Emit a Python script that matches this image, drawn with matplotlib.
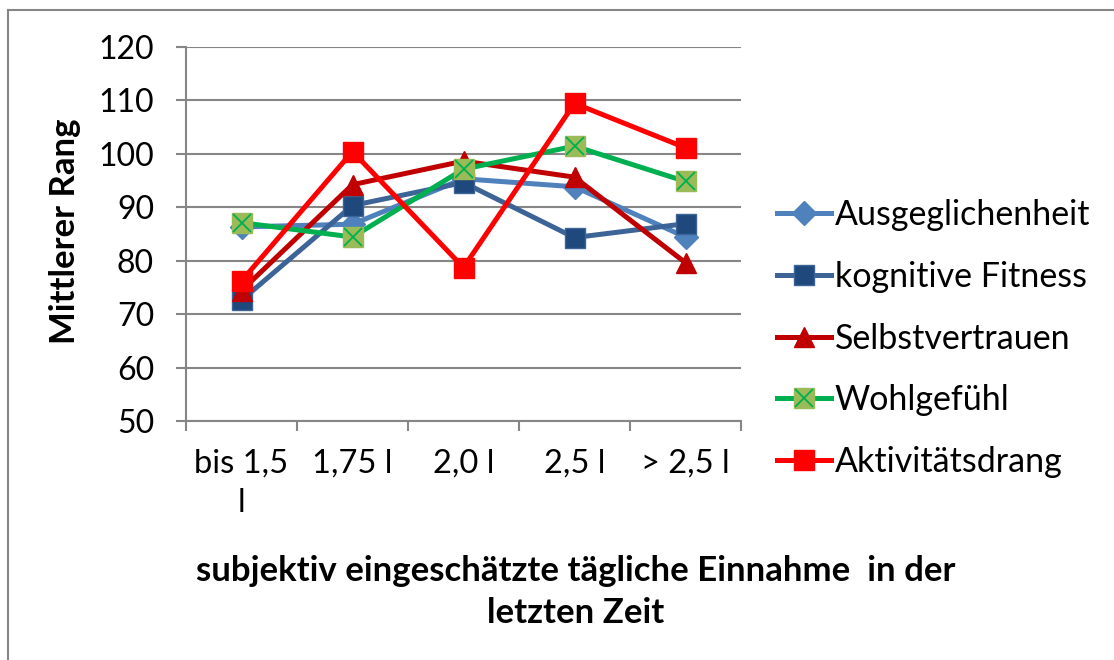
import matplotlib
matplotlib.use("Agg")
import matplotlib.pyplot as plt
from matplotlib.lines import Line2D
from matplotlib.legend_handler import HandlerTuple

plt.rcParams['font.family'] = ['Lato', 'DejaVu Sans']

# categories (x axis) and series values
categories = ["bis 1,5\nl", "1,75 l", "2,0 l", "2,5 l", "> 2,5 l"]
ausgeglichenheit = [86.3, 86.8, 95.3, 93.8, 84.4]
kognitive_fitness = [72.6, 90.3, 94.6, 84.3, 86.9]
selbstvertrauen = [74.4, 94.2, 98.6, 95.6, 79.6]
wohlgefuehl = [87.1, 84.4, 97.1, 101.4, 94.8]
aktivitaetsdrang = [76.2, 100.4, 78.7, 109.4, 101.1]
y_ticks = [50, 60, 70, 80, 90, 100, 110, 120]

W, H = 1114, 660
fig = plt.figure(figsize=(W / 100, H / 100), dpi=100)
ax = fig.add_axes([186 / W, 1 - 421 / H, (741 - 186) / W, (421 - 46.7) / H])

grid_col = "#868686"
x = list(range(len(categories)))

lw = 3.6
ms = 14
ax.plot(x, ausgeglichenheit, color="#4F81BD", lw=lw, marker="D", ms=ms * 0.85,
        mfc="#4F81BD", mec="#4F81BD", zorder=3)
ax.plot(x, kognitive_fitness, color="#3C6496", lw=lw, marker="s", ms=ms,
        mfc="#1F497D", mec="#3C6496", zorder=4)
ax.plot(x, selbstvertrauen, color="#C00000", lw=lw, marker="^", ms=ms,
        mfc="#C00000", mec="#C00000", zorder=5)
w_line, = ax.plot(x, wohlgefuehl, color="#00B050", lw=lw, marker="s", ms=ms,
                  mfc="#9BBB59", mec="#9BBB59", zorder=6)
w_x, = ax.plot(x, wohlgefuehl, ls="none", marker="x", ms=ms * 0.9, mew=1.3,
               color="#00B050", zorder=7)
ax.plot(x, aktivitaetsdrang, color="#FF0000", lw=lw, marker="s", ms=ms,
        mfc="#FF0000", mec="#FF0000", zorder=8)

ax.set_xlim(-0.5, len(categories) - 0.5)
ax.set_ylim(50, 120)
ax.set_yticks(y_ticks)
ax.yaxis.grid(True, color=grid_col, lw=1.5)
ax.set_axisbelow(True)
for s in ["top", "right"]:
    ax.spines[s].set_visible(False)
for s in ["left", "bottom"]:
    ax.spines[s].set_color(grid_col)
    ax.spines[s].set_linewidth(1.5)

ax.tick_params(axis="y", length=7, width=1.5, color=grid_col, pad=16, labelsize=23)
ax.set_xticks(x)
ax.set_xticklabels(categories)
ax.tick_params(axis="x", which="major", length=0, pad=20, labelsize=23.5)
ax.set_xticks([i - 0.5 for i in range(len(categories) + 1)], minor=True)
ax.tick_params(axis="x", which="minor", length=7, width=1.5, color=grid_col)
for lab in ax.get_xticklabels():
    lab.set_linespacing(1.4)

fig.text(65 / W, 1 - 231 / H, "Mittlerer Rang", rotation=90, ha="center",
         va="center", fontsize=25, fontweight="bold")
fig.text(576 / W, 1 - 592 / H, "subjektiv eingeschätzte tägliche Einnahme  in der\nletzten Zeit",
         ha="center", va="center", fontsize=25, fontweight="bold", linespacing=1.35)

handles = ax.get_lines()
legend_handles = [handles[0], handles[1], handles[2], (w_line, w_x), handles[5]]
labels = ["Ausgeglichenheit", "kognitive Fitness", "Selbstvertrauen",
          "Wohlgefühl", "Aktivitätsdrang"]
fig.legend(legend_handles, labels, loc="center left",
           bbox_to_anchor=(777 / W, 1 - 338.5 / H), frameon=False,
           fontsize=24.5, handlelength=1.6, handletextpad=0.1,
           labelspacing=0.87, borderpad=0, borderaxespad=0,
           handler_map={tuple: HandlerTuple(ndivide=1, pad=0)})

# outer chart frame (only top and left edges visible)
fig.add_artist(Line2D([8 / W, 1], [1 - 10 / H, 1 - 10 / H], color=grid_col, lw=1.5,
                      transform=fig.transFigure))
fig.add_artist(Line2D([8 / W, 8 / W], [0, 1 - 10 / H], color=grid_col, lw=1.5,
                      transform=fig.transFigure))

fig.savefig("out.png", dpi=100)
